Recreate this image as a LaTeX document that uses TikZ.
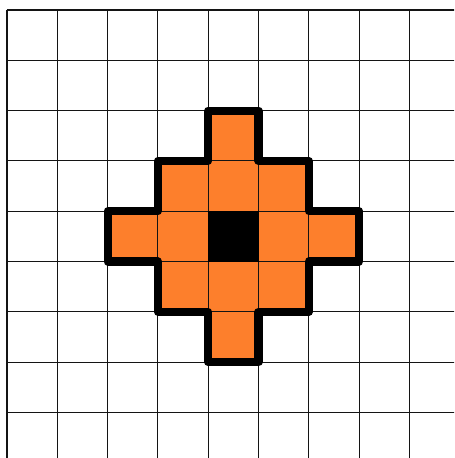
\documentclass[tikz,border=0pt]{standalone}
\usetikzlibrary{calc}
\definecolor{cellO}{RGB}{253,127,44}
\definecolor{gridC}{RGB}{20,20,20}

\begin{document}
\begin{tikzpicture}[
  gridline/.style={draw=gridC, line width=0.6pt},
  cell/.style={fill=cellO, draw=gridC, line width=0.5pt},
  centre/.style={fill=black, draw=black, line width=0.5pt},
  outline/.style={draw=black, line width=4.6pt, line join=round},
]

% ---------- frame ----------
\useasboundingbox (-0.139,0.199) rectangle (8.887,-8.906);
\clip (-0.139,0.199) rectangle (8.887,-8.906);

% ---------- background grid ----------
\draw[gridline] (0,-9.5) grid (9.5,0);

% ---------- orange cells (distance <= 2 from centre) ----------
\foreach \cx/\cy in {4/2, 3/3, 4/3, 5/3, 2/4, 3/4, 5/4, 6/4, 3/5, 4/5, 5/5, 4/6}{
  \draw[cell] (\cx,-\cy) rectangle ++(1,-1);
}
\draw[centre] (4,-4) rectangle ++(1,-1);

% ---------- thick border ----------
\draw[outline] (4,-2) -- (5,-2) -- (5,-3) -- (6,-3) -- (6,-4) -- (7,-4)
  -- (7,-5) -- (6,-5) -- (6,-6) -- (5,-6) -- (5,-7) -- (4,-7) -- (4,-6)
  -- (3,-6) -- (3,-5) -- (2,-5) -- (2,-4) -- (3,-4) -- (3,-3) -- (4,-3) -- cycle;

\end{tikzpicture}
\end{document}
